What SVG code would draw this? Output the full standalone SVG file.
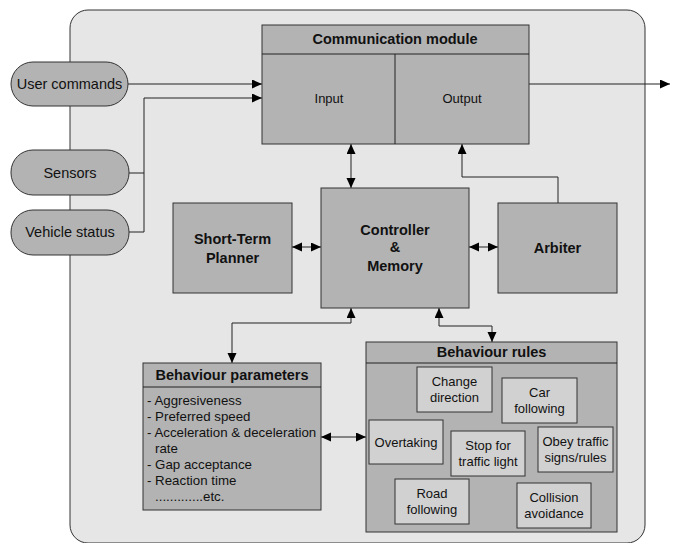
<svg xmlns="http://www.w3.org/2000/svg" width="673" height="543" viewBox="0 0 673 543">
<style>
.box{fill:#b3b3b3;stroke:#333;stroke-width:1}
.inner{fill:#d1d1d1;stroke:#333;stroke-width:1}
.ln{fill:none;stroke:#222;stroke-width:1}
text{font-family:"Liberation Sans",Arial,sans-serif;fill:#111}
.b{font-weight:bold;font-size:14.5px;text-anchor:middle}
.n{font-size:13px;text-anchor:middle}
.p{font-size:14.5px;text-anchor:middle}
.l{font-size:13.3px}
</style>
<defs>
<marker id="ah" markerWidth="12" markerHeight="10" refX="10" refY="4.5" orient="auto-start-reverse" markerUnits="userSpaceOnUse">
<path d="M0,0 L10,4.5 L0,9 Z" fill="#000"/>
</marker>
</defs>
<rect id="frame" x="70" y="10" width="575" height="533" rx="18" fill="#e6e6e6" stroke="#333" stroke-width="1"/>

<g id="connectors">
<path class="ln" d="M128,84 H262" marker-end="url(#ah)"/>
<path class="ln" d="M129,173 H144 M129,232 H144 V98 H262" marker-end="url(#ah)"/>
<path class="ln" d="M529,84 H670" marker-end="url(#ah)"/>
<path class="ln" d="M351,144 V188" marker-start="url(#ah)" marker-end="url(#ah)"/>
<path class="ln" d="M558,203 V177 H462 V144" marker-end="url(#ah)"/>
<path class="ln" d="M292,247 H321" marker-start="url(#ah)" marker-end="url(#ah)"/>
<path class="ln" d="M469,247 H498" marker-start="url(#ah)" marker-end="url(#ah)"/>
<path class="ln" d="M232,363 V323 H351 V308" marker-start="url(#ah)" marker-end="url(#ah)"/>
<path class="ln" d="M439,308 V326 H492 V342" marker-start="url(#ah)" marker-end="url(#ah)"/>
<path class="ln" d="M321,437 H366" marker-start="url(#ah)" marker-end="url(#ah)"/>
</g>

<g id="user-commands">
<rect class="box" x="11" y="62" width="117" height="44" rx="22"/>
<text class="p" x="69.5" y="89">User commands</text>
</g>
<g id="sensors">
<rect class="box" x="11" y="150" width="118" height="45" rx="22"/>
<text class="p" x="70" y="178">Sensors</text>
</g>
<g id="vehicle-status">
<rect class="box" x="11" y="210" width="118" height="45" rx="22"/>
<text class="p" x="70" y="237">Vehicle status</text>
</g>

<g id="communication-module">
<rect class="box" x="262" y="25" width="267" height="119"/>
<line class="ln" x1="262" y1="54" x2="529" y2="54"/>
<line class="ln" x1="395" y1="54" x2="395" y2="144"/>
<text class="b" x="395" y="44">Communication module</text>
<text class="n" x="329" y="103">Input</text>
<text class="n" x="462" y="103">Output</text>
</g>

<g id="short-term-planner">
<rect class="box" x="173" y="203" width="119" height="90"/>
<text class="b" x="232.5" y="244">Short-Term</text>
<text class="b" x="232.5" y="263">Planner</text>
</g>

<g id="controller-memory">
<rect class="box" x="321" y="188" width="148" height="120"/>
<text class="b" x="395" y="235">Controller</text>
<text class="b" x="395" y="252">&amp;</text>
<text class="b" x="395" y="271">Memory</text>
</g>

<g id="arbiter">
<rect class="box" x="498" y="203" width="119" height="90"/>
<text class="b" x="557.5" y="253">Arbiter</text>
</g>

<g id="behaviour-parameters">
<rect class="box" x="143" y="363" width="178" height="147"/>
<line class="ln" x1="143" y1="387" x2="321" y2="387"/>
<text class="b" x="232" y="380">Behaviour parameters</text>
<text class="l" x="147" y="405">- Aggresiveness</text>
<text class="l" x="147" y="421">- Preferred speed</text>
<text class="l" x="147" y="437">- Acceleration &amp; deceleration</text>
<text class="l" x="155" y="453">rate</text>
<text class="l" x="147" y="469">- Gap acceptance</text>
<text class="l" x="147" y="485">- Reaction time</text>
<text class="l" x="155" y="501">.............etc.</text>
</g>

<g id="behaviour-rules">
<rect class="box" x="366" y="342" width="251" height="190"/>
<line class="ln" x1="366" y1="363" x2="617" y2="363"/>
<text class="b" x="491.5" y="357">Behaviour rules</text>
</g>

<g id="change-direction">
<rect class="inner" x="417" y="367" width="75" height="45"/>
<text class="n" x="454.5" y="386">Change</text>
<text class="n" x="454.5" y="402">direction</text>
</g>
<g id="car-following">
<rect class="inner" x="502" y="378" width="75" height="45"/>
<text class="n" x="539.5" y="397">Car</text>
<text class="n" x="539.5" y="413">following</text>
</g>
<g id="overtaking">
<rect class="inner" x="369" y="420" width="74" height="44"/>
<text class="n" x="406" y="447">Overtaking</text>
</g>
<g id="stop-for-traffic-light">
<rect class="inner" x="451" y="431" width="74" height="45"/>
<text class="n" x="488" y="450">Stop for</text>
<text class="n" x="488" y="466">traffic light</text>
</g>
<g id="obey-traffic-signs">
<rect class="inner" x="538" y="427" width="75" height="45"/>
<text class="n" x="575.5" y="446">Obey traffic</text>
<text class="n" x="575.5" y="462">signs/rules</text>
</g>
<g id="road-following">
<rect class="inner" x="395" y="479" width="74" height="45"/>
<text class="n" x="432" y="498">Road</text>
<text class="n" x="432" y="514">following</text>
</g>
<g id="collision-avoidance">
<rect class="inner" x="517" y="483" width="74" height="45"/>
<text class="n" x="554" y="502">Collision</text>
<text class="n" x="554" y="518">avoidance</text>
</g>
</svg>
